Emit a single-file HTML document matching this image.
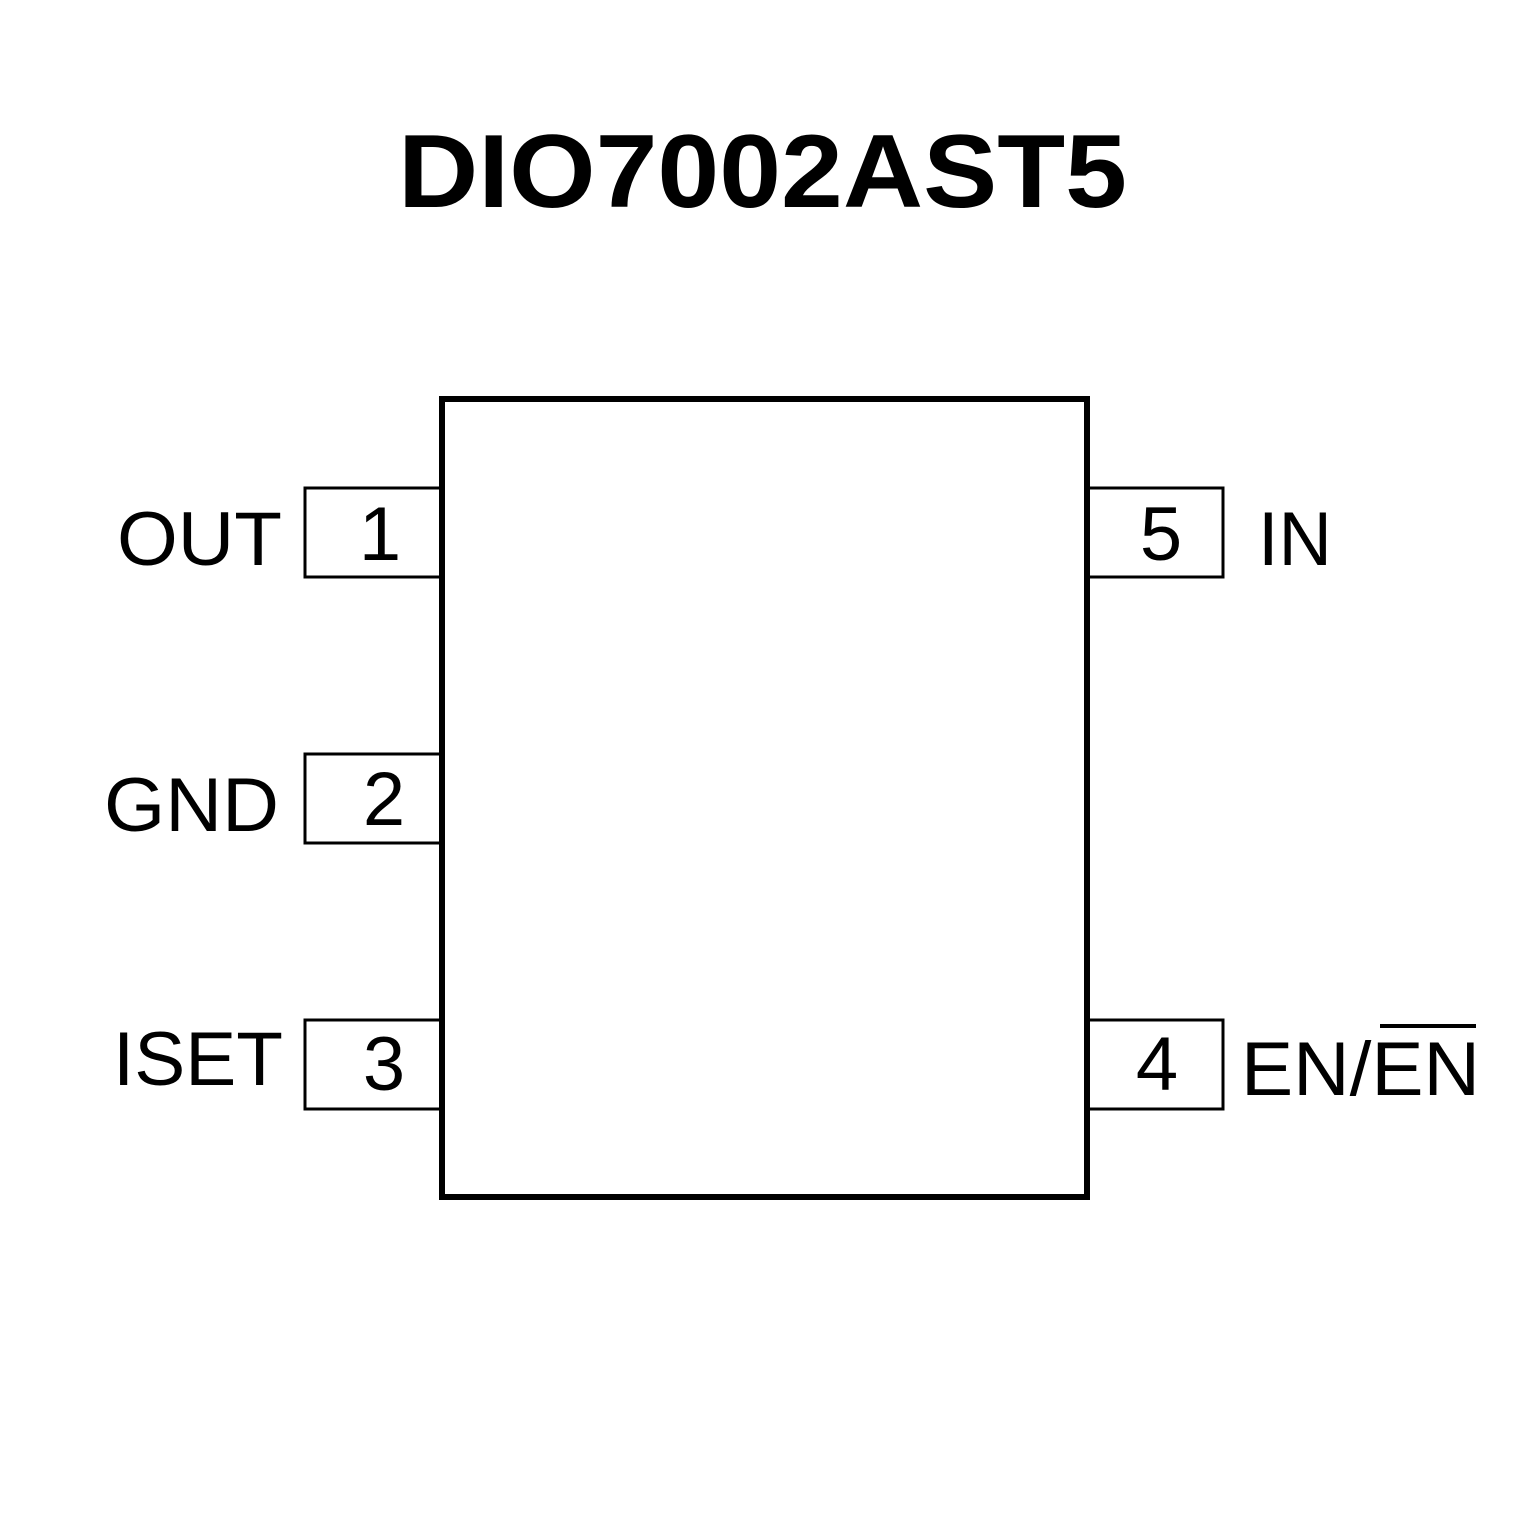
<!DOCTYPE html>
<html><head><meta charset="utf-8"><style>
html,body{margin:0;padding:0;background:#fff;}
svg{display:block;}
</style></head><body>
<svg width="1535" height="1535" viewBox="0 0 1535 1535" xmlns="http://www.w3.org/2000/svg">
<rect width="1535" height="1535" fill="#fff"/>
<text x="398" y="207" font-family="Liberation Sans, sans-serif" font-weight="bold" font-size="104" textLength="729" lengthAdjust="spacingAndGlyphs">DIO7002AST5</text>
<rect x="442" y="399" width="645" height="798" fill="none" stroke="#000" stroke-width="6"/>
<g fill="none" stroke="#000" stroke-width="3">
<rect x="305" y="488" width="137" height="89"/>
<rect x="305" y="754" width="137" height="89"/>
<rect x="305" y="1020" width="137" height="89"/>
<rect x="1087" y="488" width="136" height="89"/>
<rect x="1087" y="1020" width="136" height="89"/>
</g>
<g font-family="Liberation Sans, sans-serif" font-size="76" fill="#000">
<text x="117" y="565" textLength="165" lengthAdjust="spacingAndGlyphs">OUT</text>
<text x="104" y="831" textLength="175" lengthAdjust="spacingAndGlyphs">GND</text>
<text x="113" y="1085" textLength="170" lengthAdjust="spacingAndGlyphs">ISET</text>
<text x="1258" y="565" textLength="74" lengthAdjust="spacingAndGlyphs">IN</text>
<text x="1241" y="1095" textLength="239" lengthAdjust="spacingAndGlyphs">EN/EN</text>
<text x="380" y="560" text-anchor="middle">1</text>
<text x="384" y="825" text-anchor="middle">2</text>
<text x="384" y="1090" text-anchor="middle">3</text>
<text x="1161" y="560" text-anchor="middle">5</text>
<text x="1157" y="1090" text-anchor="middle">4</text>
</g>
<line x1="1380" y1="1026" x2="1476" y2="1026" stroke="#000" stroke-width="4"/>
</svg>
</body></html>
